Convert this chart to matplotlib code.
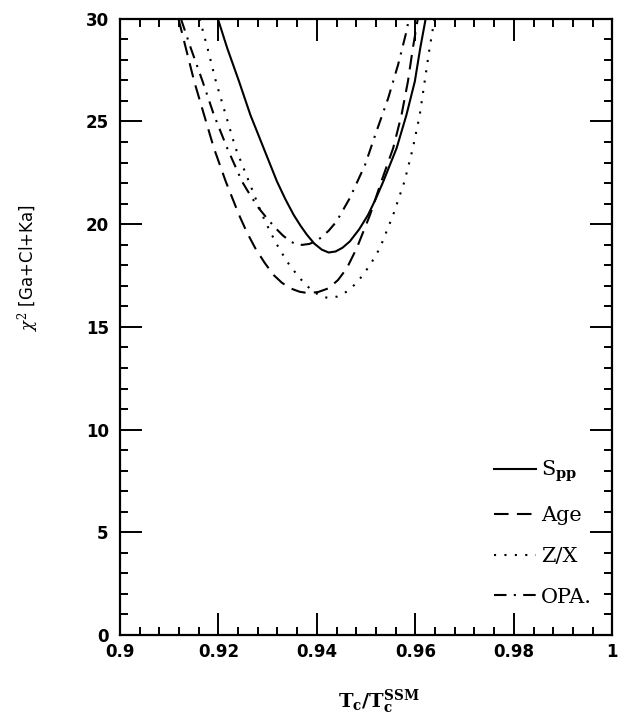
import matplotlib
matplotlib.use('Agg')
import matplotlib.pyplot as plt
from matplotlib.ticker import MultipleLocator, FormatStrFormatter

# chi^2 curves
spp_x = [0.9199, 0.9218, 0.9242, 0.9265, 0.9292, 0.9319, 0.9336, 0.9353, 0.9367, 0.9380, 0.9395,
         0.9410, 0.9424, 0.9438, 0.9452, 0.9467, 0.9486, 0.9504, 0.9520, 0.9535, 0.9562, 0.9582,
         0.9599, 0.9610, 0.9621]
spp_y = [30.0, 28.57, 26.95, 25.32, 23.70, 22.08, 21.22, 20.45, 19.92, 19.48, 19.05,
         18.76, 18.62, 18.67, 18.85, 19.16, 19.75, 20.45, 21.25, 22.08, 23.70, 25.32,
         26.95, 28.57, 30.0]

age_x = [0.9119, 0.9134, 0.9151, 0.9171, 0.9191, 0.9215, 0.9242, 0.9258, 0.9275, 0.9294, 0.9312,
         0.9329, 0.9346, 0.9365, 0.9383, 0.9403, 0.9424, 0.9443, 0.9461, 0.9481, 0.9508, 0.9531,
         0.9555, 0.9572, 0.9585, 0.9595, 0.9605]
age_y = [30.0, 28.57, 26.95, 25.32, 23.70, 22.08, 20.45, 19.60, 18.83, 18.12, 17.53,
         17.15, 16.88, 16.71, 16.64, 16.70, 16.88, 17.28, 17.86, 18.83, 20.45, 22.08,
         23.70, 25.32, 26.95, 28.57, 30.0]

zx_x = [0.9162, 0.9178, 0.9195, 0.9215, 0.9235, 0.9262, 0.9289, 0.9306, 0.9323, 0.9341, 0.9360,
        0.9376, 0.9393, 0.9408, 0.9424, 0.9442, 0.9461, 0.9478, 0.9494, 0.9511, 0.9528, 0.9555,
        0.9578, 0.9595, 0.9609, 0.9619, 0.9629, 0.9639]
zx_y = [30.0, 28.57, 26.95, 25.32, 23.70, 22.08, 20.45, 19.60, 18.83, 18.13, 17.53,
        17.08, 16.72, 16.50, 16.40, 16.48, 16.72, 17.08, 17.53, 18.13, 18.83, 20.45,
        22.08, 23.70, 25.32, 26.95, 28.57, 30.0]

opa_x = [0.9124, 0.9144, 0.9168, 0.9191, 0.9218, 0.9248, 0.9265, 0.9282, 0.9300, 0.9316, 0.9331,
         0.9346, 0.9358, 0.9370, 0.9385, 0.9396, 0.9407, 0.9424, 0.9440, 0.9467, 0.9498, 0.9521,
         0.9545, 0.9565, 0.9582, 0.9587]
opa_y = [30.0, 28.57, 26.95, 25.32, 23.70, 22.08, 21.40, 20.78, 20.25, 19.81, 19.45,
         19.16, 19.03, 18.99, 19.04, 19.15, 19.32, 19.68, 20.13, 21.27, 22.89, 24.51,
         26.14, 27.76, 29.38, 30.0]

labels = [r'S$_{\mathbf{pp}}$', 'Age', 'Z/X', 'OPA.']

plt.rcParams['mathtext.fontset'] = 'dejavuserif'

fig = plt.figure(figsize=(6.21, 7.20), dpi=100)
ax = fig.add_axes([0.193, 0.118, 0.793, 0.856])

lw = 1.5
ax.plot(spp_x, spp_y, color='black', lw=lw, label=labels[0])
ax.plot(age_x, age_y, color='black', lw=lw, dashes=(7, 4), label=labels[1])
ax.plot(zx_x, zx_y, color='black', lw=lw, dashes=(1, 4), label=labels[2])
ax.plot(opa_x, opa_y, color='black', lw=lw, dashes=(6, 3.5, 1, 3.5), label=labels[3])

ax.set_xlim(0.9, 1.0)
ax.set_ylim(0, 30)
ax.xaxis.set_major_locator(MultipleLocator(0.02))
ax.xaxis.set_minor_locator(MultipleLocator(0.004))
ax.yaxis.set_major_locator(MultipleLocator(5))
ax.yaxis.set_minor_locator(MultipleLocator(1))
ax.xaxis.set_major_formatter(FormatStrFormatter('%g'))
ax.yaxis.set_major_formatter(FormatStrFormatter('%g'))

ax.tick_params(which='both', direction='in', top=True, right=True, width=1.4, color='black')
ax.tick_params(which='major', length=16)
ax.tick_params(which='minor', length=6)
ax.tick_params(axis='x', which='major', pad=6)
ax.tick_params(axis='y', which='major', pad=8)
for lab in ax.get_xticklabels() + ax.get_yticklabels():
    lab.set_fontfamily('DejaVu Sans')
    lab.set_fontweight('bold')
    lab.set_fontsize(12)
for sp in ax.spines.values():
    sp.set_linewidth(1.6)

leg = ax.legend(loc='lower right', bbox_to_anchor=(0.98, 0.029), frameon=False,
                handlelength=2.0, handletextpad=0.25, labelspacing=1.05,
                borderpad=0, prop={'family': 'DejaVu Serif', 'size': 15})

fig.text(0.045, 1 - 268 / 720, r'$\chi^2$ [Ga+Cl+Ka]', rotation=90, ha='center', va='center',
         fontsize=12, family='DejaVu Sans')
fig.text(0.61, 1 - 702 / 720, r'T$_\mathbf{c}$/T$_\mathbf{c}^{\mathbf{SSM}}$', ha='center', va='center',
         fontsize=14, family='DejaVu Serif', fontweight='bold')

fig.savefig('out.png', dpi=100)
